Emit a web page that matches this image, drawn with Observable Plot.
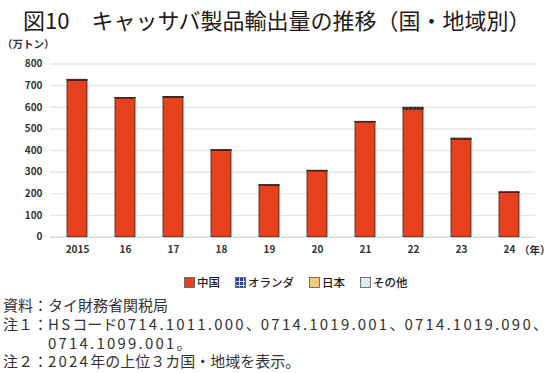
<!DOCTYPE html>
<html><head><meta charset="utf-8">
<script src="https://cdn.jsdelivr.net/npm/d3@7"></script>
<script src="https://cdn.jsdelivr.net/npm/@observablehq/plot@0.6"></script>
<style>
body{margin:0;width:550px;height:373px;position:relative;background:#fff;font-family:"Noto Sans CJK JP","Noto Sans",sans-serif;color:#231815;overflow:hidden}
#title{position:absolute;left:23px;top:3px;font-size:22px;font-weight:400;white-space:nowrap;letter-spacing:0px}
#unit{position:absolute;left:2px;top:36px;font-size:10.5px;font-weight:700;color:#333}
#chart{position:absolute;left:0;top:34px}
#yr{position:absolute;left:519px;top:242px;font-size:10.5px;font-weight:700;color:#333}
#legend{position:absolute;left:184px;top:274px;display:flex;align-items:center;font-size:11.5px;font-weight:500;white-space:nowrap}
#legend .it{display:flex;align-items:center;margin-right:15px}
#legend svg{margin-right:2px}
#notes{position:absolute;left:3px;top:296px;font-size:15px;line-height:18.8px;white-space:nowrap;color:#333}
#notes div{padding-left:45px;text-indent:-45px}
#notes .n{letter-spacing:2.2px}
</style></head>
<body>
<svg width="0" height="0" style="position:absolute">
<defs>
<pattern id="pnl" width="4" height="4" patternUnits="userSpaceOnUse">
<rect width="4" height="4" fill="#2a3f9a"/>
<path d="M0 0.5H4M0.5 0V4" stroke="#ffffff" stroke-width="0.8"/>
</pattern>
<pattern id="pot" width="4" height="4" patternUnits="userSpaceOnUse">
<rect width="4" height="4" fill="#eaf6f8"/>
<circle cx="1" cy="1" r="0.7" fill="#7cc6d6"/>
<circle cx="3" cy="3" r="0.7" fill="#7cc6d6"/>
</pattern>
</defs>
</svg>
<div id="title">図10　キャッサバ製品輸出量の推移（国・地域別）</div>
<div id="unit">（万トン）</div>
<div id="chart"></div>
<div id="yr">（年）</div>
<div id="legend"></div>
<div id="notes">
<div>資料：タイ財務省関税局</div>
<div>注１：<span class="n">HS</span>コード<span class="n">0714.1011.000</span>、<span class="n">0714.1019.001</span>、<span class="n">0714.1019.090</span>、<br><span class="n">0714.1099.001</span>。</div>
<div>注２：<span class="n">2024</span>年の上位３カ国・地域を表示。</div>
</div>
<script>
const years = ["2015","16","17","18","19","20","21","22","23","24"];
const seriesNames = ["中国","オランダ","日本","その他"];
const china       = [722, 640, 644, 399, 238, 304, 529, 589, 451, 205];
const netherlands = [3, 2, 3, 2, 1, 2, 3, 6, 3, 1];
const japan       = [1, 0.5, 0.5, 0.5, 0.5, 0.5, 0.5, 1, 0.5, 0.5];
const other       = [1, 0.5, 0.5, 0.5, 0.5, 0.5, 0.5, 2, 0.5, 0.5];
const yTicks = [0,100,200,300,400,500,600,700,800];
const fills = ["#e8401c","url(#pnl)","#f6c67a","url(#pot)"];

const seriesValues = [china, netherlands, japan, other];
const rows = years.flatMap((y,i)=>seriesNames.map((s,k)=>({year:y, series:s, value:seriesValues[k][i]})));

const chart = Plot.plot({
  width:550, height:228,
  marginLeft:50, marginRight:15, marginTop:29.5, marginBottom:25.3,
  style:{fontFamily:"Noto Sans CJK JP, Noto Sans, sans-serif", fontSize:"10px", color:"#333", fontWeight:"700"},
  x:{domain:years, paddingInner:0.588, paddingOuter:0.294, label:null},
  y:{domain:[0,800], label:null},
  color:{type:"ordinal", domain:seriesNames, range:fills},
  marks:[
    Plot.gridY(yTicks.filter(d=>d>0), {stroke:"#e6e6e6", strokeOpacity:1, strokeWidth:1.4}),
    Plot.ruleY([0], {stroke:"#d9d9d9", strokeWidth:1.4}),
    Plot.axisY({ticks:yTicks, tickSize:0, tickPadding:8, label:null}),
    Plot.axisX({tickSize:0, tickPadding:9, label:null}),
    Plot.barY(rows, Plot.stackY({order:seriesNames}, {x:"year", y:"value", fill:"series", stroke:"#3b2217", strokeWidth:0.8}))
  ]
});
document.getElementById("chart").appendChild(chart);

const lg = document.getElementById("legend");
seriesNames.forEach((s,k)=>{
  const it = document.createElement("div"); it.className="it";
  it.innerHTML = `<svg width="11" height="11"><rect x="0.5" y="0.5" width="10" height="10" fill="${fills[k]}" stroke="#555" stroke-width="0.8"/></svg><span>${s}</span>`;
  lg.appendChild(it);
});
</script>
</body></html>
